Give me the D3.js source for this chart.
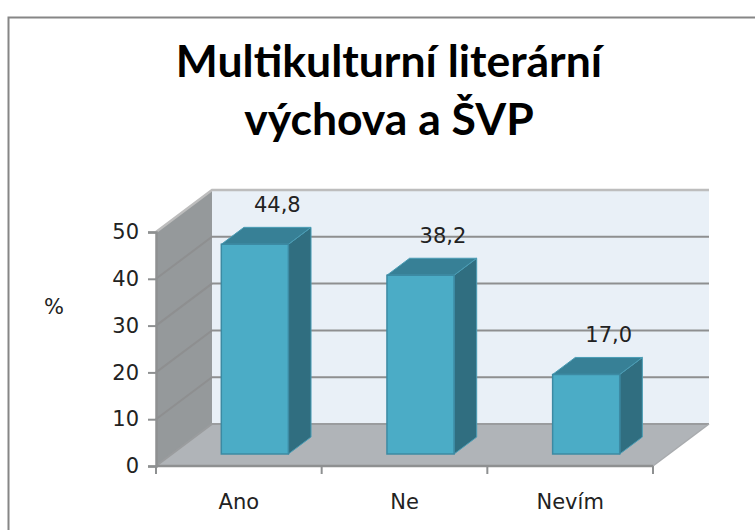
<!DOCTYPE html>
<html><head><meta charset="utf-8">
<script src="https://cdn.jsdelivr.net/npm/d3@7"></script>
<style>html,body{margin:0;background:#fff}svg{display:block}</style></head>
<body><svg id="c" width="755" height="530"></svg>
<script>
const titleLines = ["Multikulturní literární", "výchova a ŠVP"];
const categories = ["Ano", "Ne", "Nevím"];
const values = [44.8, 38.2, 17.0];
const valueLabels = ["44,8", "38,2", "17,0"];
const yTicks = [0, 10, 20, 30, 40, 50];
const axisLabel = "%";

const svg = d3.select("#c");
const x = d3.scaleBand().domain(categories).range([156, 653]).paddingInner(0.595).paddingOuter(0.2975);
const y = d3.scaleLinear().domain([0, 50]).range([466, 232]);
const depthX = d3.scaleLinear().domain([0, 1]).range([0, 56]);
const depthY = d3.scaleLinear().domain([0, 1]).range([0, -42]);
const P = (px, v, d) => [px + depthX(d), y(v) + depthY(d)];
const poly = pts => "M" + pts.map(p => p.join(",")).join("L") + "Z";
const xL = x.range()[0], xR = x.range()[1];
const yMax = y.domain()[1];
const labelFont = "'DejaVu Sans', sans-serif";

// frame
svg.append("path").attr("d", "M8.5,530V17.5H755").attr("fill", "none").attr("stroke", "#868686").attr("stroke-width", 2);

// title
svg.append("g").selectAll("text").data(titleLines).join("text")
  .attr("x", 389).attr("y", (d, i) => 77 + i * 58).attr("text-anchor", "middle")
  .attr("font-family", "Lato, 'Open Sans', sans-serif").attr("font-weight", 700).attr("font-size", 44.5)
  .attr("fill", "#000").text(d => d);

// back wall
svg.append("path").attr("d", poly([P(xL, 0, 1), P(xR, 0, 1), P(xR, yMax, 1), P(xL, yMax, 1)])).attr("fill", "#e9f0f7");
// side wall
svg.append("path").attr("d", poly([P(xL, 0, 0), P(xL, 0, 1), P(xL, yMax, 1), P(xL, yMax, 0)])).attr("fill", "#95999b");
// floor
svg.append("path").attr("d", poly([P(xL, 0, 0), P(xR, 0, 0), P(xR, 0, 1), P(xL, 0, 1)])).attr("fill", "#b0b4b8");

// gridlines
const grid = svg.append("g").attr("fill", "none").attr("stroke", "#8e8f90").attr("stroke-width", 2);
yTicks.forEach(t => {
  grid.append("path").attr("d", "M" + [P(xL, t, 0), P(xL, t, 1), P(xR, t, 1)].map(p => p.join(",")).join("L"))
    .attr("stroke", t === 50 ? "#bdbdbd" : t === 0 ? "#9a9c9e" : "#8e8f90")
    .attr("stroke-width", t === 50 ? 2.5 : 2);
});
svg.append("path").attr("d", "M" + [P(xR, 0, 0), P(xR, 0, 1)].map(p => p.join(",")).join("L"))
  .attr("stroke", "#a8abae").attr("stroke-width", 1.5).attr("fill", "none");

// axes
const axisStroke = "#8e9091";
const gy = svg.append("g").attr("transform", `translate(${xL},0)`).call(d3.axisLeft(y).tickValues(yTicks).tickSize(8).tickPadding(9));
const gx = svg.append("g").attr("transform", `translate(0,${y(0)})`);
gx.append("path").attr("d", `M${xL},0H${xR}`).attr("stroke", axisStroke).attr("stroke-width", 2.5);
gx.selectAll("line").data(d3.range(categories.length + 1)).join("line")
  .attr("x1", i => xL + i * x.step()).attr("x2", i => xL + i * x.step())
  .attr("y1", 0).attr("y2", 8).attr("stroke", axisStroke).attr("stroke-width", 2);
gx.selectAll("text").data(categories).join("text")
  .attr("x", d => x(d) + x.bandwidth() / 2).attr("y", 43).attr("text-anchor", "middle")
  .attr("font-family", labelFont).attr("font-size", 21).attr("fill", "#222").text(d => d);
gy.select(".domain").attr("stroke", axisStroke).attr("stroke-width", 2.5);
gy.selectAll("line").attr("stroke", axisStroke).attr("stroke-width", 2);
gy.selectAll("text").attr("font-family", labelFont).attr("font-size", 21).attr("fill", "#222");

svg.append("text").attr("x", 54).attr("y", 314).attr("text-anchor", "middle")
  .attr("font-family", labelFont).attr("font-size", 21).attr("fill", "#222").text(axisLabel);

// bars
const d0 = 0.286, d1 = 0.69;
const bars = svg.append("g").selectAll("g").data(categories).join("g");
bars.each(function (c, i) {
  const g = d3.select(this), a = x(c), b = a + x.bandwidth(), v = values[i];
  g.append("path").attr("d", poly([P(b, 0, d0), P(b, 0, d1), P(b, v, d1), P(b, v, d0)]))
    .attr("fill", "#306e80").attr("stroke", "#4b9db5").attr("stroke-width", 1);
  g.append("path").attr("d", poly([P(a, v, d0), P(b, v, d0), P(b, v, d1), P(a, v, d1)]))
    .attr("fill", "#378096").attr("stroke", "#4b9db5").attr("stroke-width", 1);
  g.append("path").attr("d", poly([P(a, 0, d0), P(b, 0, d0), P(b, v, d0), P(a, v, d0)]))
    .attr("fill", "#4bacc6").attr("stroke", "#3c8aa3").attr("stroke-width", 1.5);
});

// value labels
svg.append("g").selectAll("text").data(valueLabels).join("text")
  .attr("x", (d, i) => x(categories[i]) + x.bandwidth() / 2 + 38.5)
  .attr("y", (d, i) => y(values[i]) - 44).attr("text-anchor", "middle")
  .attr("font-family", labelFont).attr("font-size", 21).attr("fill", "#222").text(d => d);
</script></body></html>
